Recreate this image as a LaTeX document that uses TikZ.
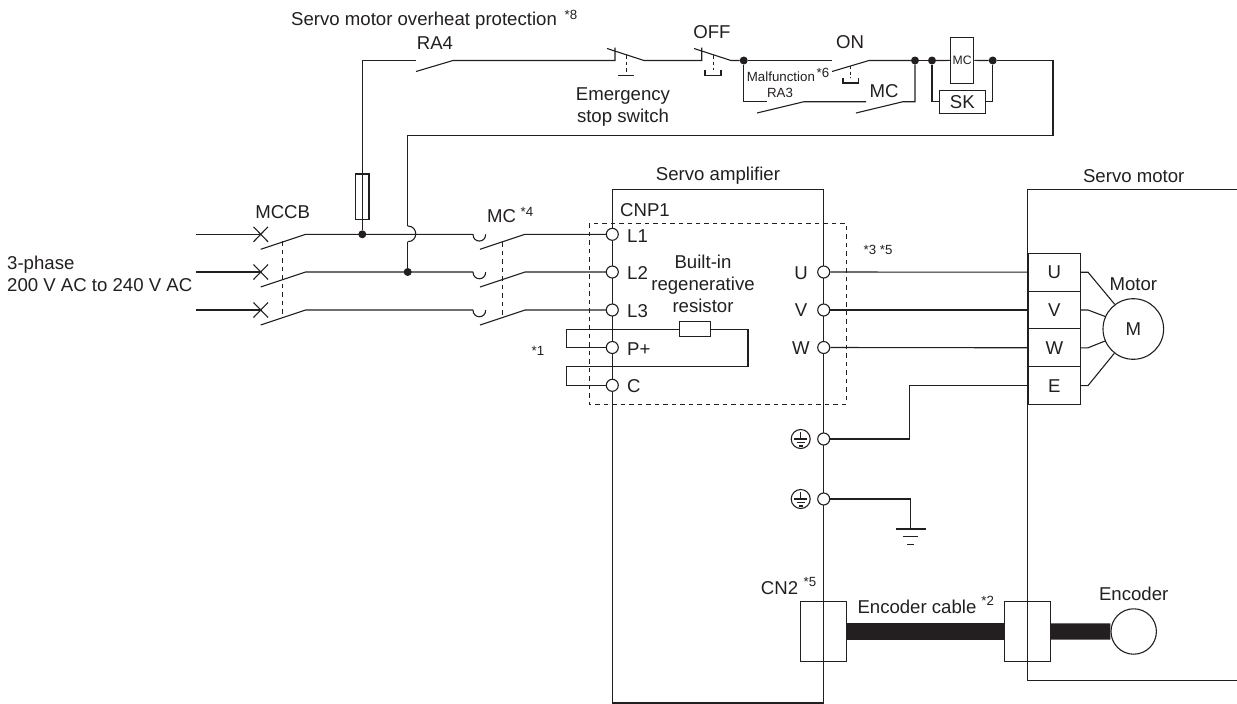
\documentclass[tikz,border=0pt]{standalone}
\usepackage{fontspec}
\setmainfont{Liberation Sans}
\usetikzlibrary{calc}
\definecolor{ink}{HTML}{231F20}
\tikzset{
	wire/.style={draw=ink, line width=1.1pt},
	dashline/.style={draw=ink, line width=1pt, dash pattern=on 4.5pt off 4pt},
	lab/.style={text=ink, inner sep=0pt, font=\fontsize{18.6}{21.8}\selectfont},
	note/.style={text=ink, inner sep=0pt, font=\fontsize{13.3}{16}\selectfont},
	dot/.style={circle, fill=ink, inner sep=0pt, minimum size=8pt},
	term/.style={circle, draw=ink, fill=white, line width=1.1pt, inner sep=0pt, minimum size=12pt},
	cell/.style={rectangle, draw=ink, line width=1.1pt, inner sep=0pt, minimum width=52.7pt, minimum height=37.8pt},
	part/.style={rectangle, draw=ink, line width=1.1pt, inner sep=0pt},
	earth/.pic={
		\draw [wire] (0,0) circle [radius=9.5pt];
		\draw [wire] (0,-7) -- (0,0) (-6.7,0) -- (6.7,0) (-4.2,3.5) -- (4.2,3.5) (-2.2,7) -- (2.2,7);
	}
}
\begin{document}
\begin{tikzpicture}[x=1pt, y=-1pt]
	\useasboundingbox (0,0) rectangle (1237,704);

	% Outer boxes
	\draw [wire] (612.3,189.2) -- (823.7,189.2) -- (823.7,703) -- (612.3,703) -- cycle;
	\draw [wire] (1237,189.2) -- (1027.5,189.2) -- (1027.5,680.7) -- (1237,680.7);
	\draw [dashline] (589,223) rectangle (846,404);

	% Terminals
	\foreach \name/\y in {L1/234.3, L2/272, L3/310, P/347.5, C/385.3}
		\node [term] (\name) at (612.3,\y) {};
	\foreach \name/\y in {U/272, V/310, W/347.5, EA/439, EB/499}
		\node [term] (\name) at (823.7,\y) {};

	% Junctions
	\node [dot] (JF) at (362.3,234.3) {};
	\node [dot] (JP) at (407.7,272) {};
	\node [dot] (JM) at (743.7,60.5) {};
	\node [dot] (JN) at (915,60.5) {};
	\node [dot] (JC) at (932,60.5) {};
	\node [dot] (JD) at (992.7,60.5) {};

	% Three phase lines
	\foreach \n/\y in {1/234.3, 2/272, 3/310} {
			\draw [wire] (196,\y) -- (261,\y);
			\draw [wire] (253.5,\y-7.5) -- (268,\y+7.5) (253.5,\y+7.5) -- (268,\y-7.5);
			\draw [wire] (260.7,\y+15) -- (305.7,\y) -- (473,\y);
			\draw [wire] (473,\y) .. controls (473,\y+9) and (485.7,\y+9) .. (485.7,\y);
			\draw [wire] (480,\y+15) -- (525,\y) -- (L\n);
		}
	\draw [dashline] (282.7,241) -- (282.7,317);
	\draw [dashline] (502.3,242) -- (502.3,317);

	% Fuse and overheat branch
	\node [part, minimum width=13.4pt, minimum height=45.7pt] (fuse) at (362.3,196.8) {};
	\draw [wire] (JF) -- (362.3,60.5) -- (416,60.5);
	\draw [wire] (416,71.5) -- (453,60.5) -- (615,60.5) -- (615,47.5);
	\draw [wire] (607,48.5) -- (644,60.5) -- (701.7,60.5) -- (701.7,47.5);
	\draw [dashline, dash pattern=on 3.5pt off 3pt] (626,55) -- (626,75.5);
	\draw [wire] (618,75.5) -- (634,75.5);
	\draw [wire] (694,48.5) -- (731,60.5) -- (JM);
	\draw [dashline, dash pattern=on 3.5pt off 3pt] (713,55) -- (713,70);
	\draw [wire] (705,70) -- (705,75.5) -- (721,75.5) -- (721,70);

	% ON and hold circuit
	\draw [wire] (JM) -- (832,60.5);
	\draw [wire] (832,71.5) -- (869,60.5) -- (JN);
	\draw [dashline, dash pattern=on 3pt off 2.5pt] (850.6,66) -- (850.6,78);
	\draw [wire] (843,78) -- (843,83) -- (858.5,83) -- (858.5,78);
	\draw [wire] (JM) |- (766.7,101.7);
	\draw [wire] (757,113) -- (804,101.7) -- (866,101.7);
	\draw [wire] (856,113) -- (903,101.7) -- (915,101.7) -- (JN);
	\draw [wire] (JN) -- (JC);

	% Coil and surge killer
	\node [part, minimum width=23pt, minimum height=45.3pt, font=\fontsize{12.2}{14}\selectfont, text=ink] (coil) at (962.2,60.4) {MC};
	\node [part, minimum width=46pt, minimum height=23pt, font=\fontsize{18.6}{22}\selectfont, text=ink] (SK) at (962.3,101.8) {SK};
	\draw [wire] (JC) -- (coil) (coil) -- (JD);
	\draw [wire] (JC) |- (SK) (SK) -| (JD);
	\draw [wire] (JD) -- (1053,60.5) -- (1053,135.7) -- (407.7,135.7) -- (407.7,226);
	\draw [wire] (407.7,226) .. controls (418.4,226) and (418.4,241.7) .. (407.7,241.7);
	\draw [wire] (407.7,241.7) -- (JP);

	% Regenerative resistor
	\node [part, minimum width=31pt, minimum height=15pt] (res) at (695.2,329.2) {};
	\draw [wire] (P) -- (566.7,347.5) -- (566.7,329.2) -- (res);
	\draw [wire] (res) -- (748,329.2) -- (748,366.3) -- (566.7,366.3) -- (566.7,385.3) -- (C);

	% Motor terminals
	\node [cell] (TU) at (1054.3,272.2) {};
	\node [cell] (TV) at (1054.3,310) {};
	\node [cell] (TW) at (1054.3,347.8) {};
	\node [cell] (TE) at (1054.3,385.6) {};
	\node [lab] (TUt) at (TU) {U};
	\node [lab] (TVt) at (TV) {V};
	\node [lab] (TWt) at (TW) {W};
	\node [lab] (TEt) at (TE) {E};
	\node [circle, draw=ink, line width=1.1pt, minimum size=60.6pt, inner sep=0pt] (M) at (1133.3,329) {};
	\node [lab] (Mt) at (M) {M};
	\draw [wire] (U) -- (TU);
	\draw [wire] (V) -- (TV);
	\draw [wire] (W) -- (TW);
	\draw [wire] (TE) -| (909.3,439) -- (EA);
	\draw [wire] (TU.east) -- (1088,272.2) -- (M.127.6);
	\draw [wire] (TV.east) -- (1088,310) -- (M.156.5);
	\draw [wire] (TW.east) -- (1088,347.8) -- (M.203.5);
	\draw [wire] (TE.east) -- (1088,385.6) -- (M.232.4);

	% Earth
	\pic at (800.7,439) {earth};
	\pic at (800.7,499) {earth};
	\coordinate (G) at (910.7,529);
	\draw [wire] (EB) -| (G);
	\draw [wire] ($(G)+(-15,0)$) -- ($(G)+(15,0)$);
	\draw [wire] ($(G)+(-7.5,7.7)$) -- ($(G)+(7.5,7.7)$);
	\draw [wire] ($(G)+(-3.7,15.5)$) -- ($(G)+(3.7,15.5)$);

	% Encoder
	\node [part, minimum width=46pt, minimum height=60.7pt] (CNa) at (823.7,631.4) {};
	\node [part, minimum width=45.5pt, minimum height=60.7pt] (CNb) at (1027.6,631.4) {};
	\node [circle, draw=ink, line width=1.1pt, minimum size=45.4pt, inner sep=0pt] (enc) at (1133.7,631.5) {};
	\draw [ink, line width=16.3pt] (CNa) -- (CNb);
	\draw [ink, line width=16.3pt] (CNb) -- (enc);

	% Labels
	\node [lab, anchor=west] (title) at (291,21) {Servo motor overheat protection};
	\node [note] (n8) at (571,15) {*8};
	\node [lab] (RA4) at (435,43) {RA4};
	\node [lab] (OFF) at (712,32) {OFF};
	\node [lab, align=center] (stop) at (623,107) {Emergency\\stop switch};
	\node [lab] (ON) at (850,42) {ON};
	\node [note, anchor=west] (fail) at (746.7,77) {Malfunction};
	\node [note] (n6) at (823,73) {*6};
	\node [note] (RA3) at (780,93) {RA3};
	\node [lab] (MCh) at (884,91) {MC};
	\node [lab] (MCCB) at (282.7,212) {MCCB};
	\node [lab] (MCm) at (501.7,216) {MC};
	\node [note] (n4) at (527,212) {*4};
	\node [note] (n1) at (538,351) {*1};
	\node [lab, anchor=west] (CNP) at (620,210) {CNP1};
	\node [lab] (amp) at (718,175.7) {Servo amplifier};
	\node [lab] (motor) at (1133.7,175.7) {Servo motor};
	\node [lab, anchor=west, align=left] (supply) at (7,274) {3-phase\\200 V AC to 240 V AC};
	\node [lab, align=center] (reg) at (703,284) {Built-in\\regenerative\\resistor};
	\node [lab, anchor=west] (L1t) at (627,236) {L1};
	\node [lab, anchor=west] (L2t) at (627,273) {L2};
	\node [lab, anchor=west] (L3t) at (627,311) {L3};
	\node [lab, anchor=west] (Pt) at (627,349) {P+};
	\node [lab, anchor=west] (Ct) at (627,386.5) {C};
	\node [lab] (Ut) at (801,273) {U};
	\node [lab] (Vt) at (801,310.5) {V};
	\node [lab] (Wt) at (801,348.5) {W};
	\node [note] (n35) at (878,250) {*3 *5};
	\node [lab] (Mot) at (1133.3,284.5) {Motor};
	\node [lab, anchor=west] (CN2) at (760.7,588) {CN2};
	\node [note] (n5) at (810,582) {*5};
	\node [lab, anchor=west] (cable) at (857.3,606.7) {Encoder cable};
	\node [note] (n2) at (987.7,601) {*2};
	\node [lab] (enct) at (1133.7,594) {Encoder};
\end{tikzpicture}
\end{document}
